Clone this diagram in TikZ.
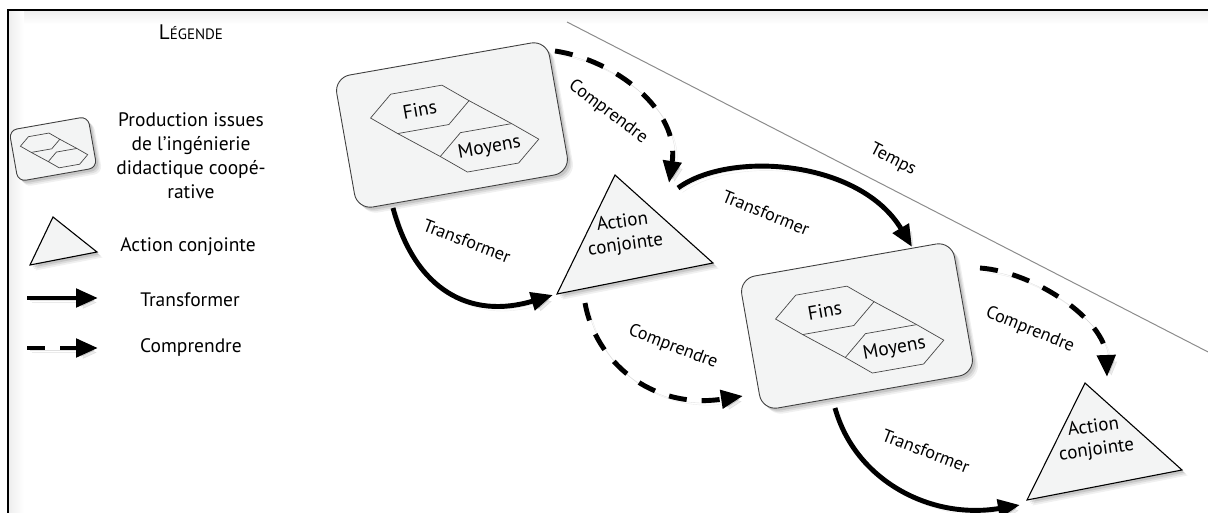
\documentclass[tikz,border=0pt]{standalone}
\usepackage{fontspec}
\setmainfont{PT Sans}
\usetikzlibrary{arrows.meta}

\definecolor{paper}{RGB}{243,244,244}

\tikzset{
  softshadow/.style={
    preaction={fill=black,opacity=.06,transform canvas={shift={(5.5pt,-5.5pt)}}},
    preaction={fill=black,opacity=.08,transform canvas={shift={(4pt,-4pt)}}},
    preaction={fill=black,opacity=.10,transform canvas={shift={(2.5pt,-2.5pt)}}}},
  linkshadow/.style={
    preaction={draw=black,opacity=.08,transform canvas={shift={(4.5pt,-4.5pt)}}},
    preaction={draw=black,opacity=.12,transform canvas={shift={(2.5pt,-2.5pt)}}}},
  prodbox/.style={draw=black!75, line width=0.9pt, fill=paper, rounded corners=16pt,
    inner sep=0pt, softshadow},
  actri/.style={draw=black, line width=1.1pt, fill=paper, line join=miter, softshadow},
  hexline/.style={draw=black!72, line width=0.7pt},
  transf/.style={line width=4.9pt, -{Triangle[length=22pt,width=18pt]}, linkshadow},
  compr/.style={transf, dash pattern=on 18pt off 15pt},
  lbl/.style={font=\fontsize{18}{20}\selectfont, inner sep=0pt},
  boxtxt/.style={font=\fontsize{19.5}{22}\selectfont, inner sep=0pt},
  tritxt/.style={font=\fontsize{19}{23}\selectfont, inner sep=0pt, align=center},
  leg/.style={font=\fontsize{19.5}{24}\selectfont, inner sep=0pt, align=center},
  pics/finsmoyens/.style={code={
    \draw[hexline] (-79,-21)--(-55,-41)--(-3,-41)--(21,-21)--(-3,-1)--(-55,-1)--cycle;
    \draw[hexline] (-17,29)--(7,9)--(59,9)--(83,29)--(59,49)--(7,49)--cycle;
    \draw[hexline] (21,-21)--(59,9) (-55,-1)--(-17,29);
  }},
}

\begin{document}
\begin{tikzpicture}[x=1pt,y=-1pt]
\useasboundingbox (0,0) rectangle (1208,513);

% frame with its inner shading
\shade[top color=black!7, bottom color=white] (8,10) rectangle (1208,24);
\shade[left color=black!7, right color=white] (8,10) rectangle (24,513);
\draw[line width=1.6pt] (8,513) -- (8,10) -- (1208,10);

% time axis
\coordinate (t0) at (567,22);
\coordinate (t1) at (1212,354);
\draw[black!45, line width=1pt] (t0) -- (t1);
\node[lbl, rotate=-27] (temps) at (893,160) {Temps};

% ---------------- legend ----------------
\node[inner sep=0pt] (legtitle) at (191,32)
  {{\fontsize{21}{22}\selectfont L}{\fontsize{15}{22}\selectfont ÉGENDE}};

\node[prodbox, rotate=10, minimum width=80pt, minimum height=52pt,
      rounded corners=8pt] (legbox) at (53,149) {};
\pic[rotate=10, scale=0.4] at (legbox.center) {finsmoyens};
\node[leg] (legprod) at (191,156)
  {Production issues\\de l'ingénierie\\didactique coopé-\\rative};

\draw[actri] (30,265) -- (53,217) -- (97,252) -- cycle;
\node[leg] (legact) at (188,247) {Action conjointe};

\coordinate (lt0) at (27,298);
\coordinate (lt1) at (98,298);
\draw[transf] (lt0) -- (lt1);
\node[leg] (legtr) at (190,300) {Transformer};

\coordinate (lc0) at (27,348);
\coordinate (lc1) at (98,348);
\draw[compr] (lc0) -- (lc1);
\node[leg] (legco) at (191,348) {Comprendre};

% ---------------- productions ----------------
\node[prodbox, rotate=10, minimum width=216pt, minimum height=134pt] (box1) at (452,125) {};
\pic[rotate=10] at (box1.center) {finsmoyens};
\begin{scope}[shift={(box1.center)}, rotate=10]
  \node[boxtxt, rotate=10] (fins1) at (-29,-21) {Fins};
  \node[boxtxt, rotate=10] (moyens1) at (33,29) {Moyens};
\end{scope}

\node[prodbox, rotate=10, minimum width=216pt, minimum height=134pt] (box2) at (857,326) {};
\pic[rotate=10] at (box2.center) {finsmoyens};
\begin{scope}[shift={(box2.center)}, rotate=10]
  \node[boxtxt, rotate=10] (fins2) at (-29,-21) {Fins};
  \node[boxtxt, rotate=10] (moyens2) at (33,29) {Moyens};
\end{scope}

% ---------------- joint actions ----------------
\draw[actri] (557,294) -- (615,175) -- (713,263) -- cycle;
\node[tritxt, rotate=8] (act1) at (624,234) {Action\\conjointe};

\draw[actri] (1027,500) -- (1085,383) -- (1182,470) -- cycle;
\node[tritxt, rotate=8] (act2) at (1095,439) {Action\\conjointe};

% ---------------- links ----------------
\coordinate (a1s) at (555,51);   \coordinate (a1e) at (669,183);
\coordinate (a2s) at (393,208);  \coordinate (a2e) at (553,295);
\coordinate (a3s) at (678,188);  \coordinate (a3e) at (912,247);
\coordinate (a4s) at (585,303);  \coordinate (a4e) at (743,396);
\coordinate (a5s) at (980,268);  \coordinate (a5e) at (1107,377);
\coordinate (a6s) at (835,408);  \coordinate (a6e) at (1020,505);

\draw[compr]  (a1s) .. controls (615,60) and (680,110) .. (a1e);
\draw[transf] (a2s) .. controls (415,290) and (470,320) .. (a2e);
\draw[transf] (a3s) .. controls (730,150) and (860,160) .. (a3e);
\draw[compr]  (a4s) .. controls (595,360) and (650,410) .. (a4e);
\draw[compr]  (a5s) .. controls (1035,272) and (1105,320) .. (a5e);
\draw[transf] (a6s) .. controls (855,480) and (930,520) .. (a6e);

\node[lbl, rotate=-37] (l1) at (608,112) {Comprendre};
\node[lbl, rotate=-21] (l2) at (467,241) {Transformer};
\node[lbl, rotate=-22] (l3) at (766,213) {Transformer};
\node[lbl, rotate=-21] (l4) at (673,347) {Comprendre};
\node[lbl, rotate=-22] (l5) at (1030,330) {Comprendre};
\node[lbl, rotate=-21] (l6) at (926,451) {Transformer};
\end{tikzpicture}
\end{document}
